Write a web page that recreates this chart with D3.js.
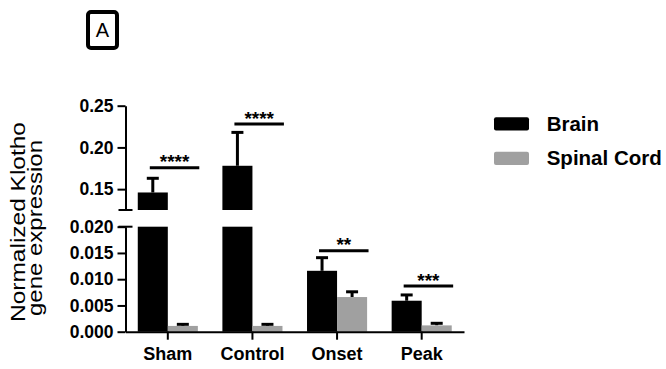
<!DOCTYPE html>
<html>
<head>
<meta charset="utf-8">
<script src="https://cdn.jsdelivr.net/npm/d3@7"></script>
<style>
  body { margin: 0; background: #fff; }
  svg { font-family: "Liberation Sans", Arial, sans-serif; }
</style>
</head>
<body>
<svg id="chart"></svg>
<script>
// data
const categories = ["Sham", "Control", "Onset", "Peak"];
const brain = [0.146, 0.178, 0.0116, 0.0059];
const brainSem = [0.017, 0.040, 0.0025, 0.0011];
const spinal = [0.0011, 0.0011, 0.0066, 0.0012];
const spinalSem = [0.0003, 0.0003, 0.0010, 0.0004];
const sigLabels = ["****", "****", "**", "***"];
const sigLevel = [0.1756, 0.228, 0.0154, 0.0087];
const upperTicks = [0.15, 0.20, 0.25];
const lowerTicks = [0, 0.005, 0.010, 0.015, 0.020];
const seriesNames = ["Brain", "Spinal Cord"];
const colors = ["#000000", "#a0a0a0"];

const svg = d3.select("#chart").attr("width", 666).attr("height", 369);

const axisX = 125.5;
const breakTop = 210, breakBottom = 226.7;

// two y segments, broken axis
const yUp = d3.scaleLinear().domain([0.125, 0.25]).range([breakTop, 105.7]);
const yLow = d3.scaleLinear().domain([0, 0.020]).range([331.7, breakBottom]);

const x = d3.scaleBand()
  .domain(categories)
  .range([axisX, 464])
  .paddingInner(0.29)
  .paddingOuter(0.145);
const bw = x.bandwidth() / 2;

const series = [
  { name: seriesNames[0], values: brain, sem: brainSem, color: colors[0], off: 0 },
  { name: seriesNames[1], values: spinal, sem: spinalSem, color: colors[1], off: bw }
];

// bars (error bars are black for both series)
series.forEach(s => {
  const g = svg.append("g");
  categories.forEach((c, i) => {
    const v = s.values[i];
    const x0 = x(c) + s.off;
    const lowTop = yLow(Math.min(v, yLow.domain()[1]));
    let top, errTop;
    if (v > yUp.domain()[0]) {
      top = yUp(v); errTop = yUp(v + s.sem[i]);
    } else {
      top = yLow(v); errTop = yLow(v + s.sem[i]);
    }
    const cx = x0 + bw / 2;
    g.append("line")
      .attr("x1", cx).attr("x2", cx).attr("y1", top).attr("y2", errTop)
      .attr("stroke", "#000").attr("stroke-width", 3);
    g.append("line")
      .attr("x1", cx - 6).attr("x2", cx + 6).attr("y1", errTop).attr("y2", errTop)
      .attr("stroke", "#000").attr("stroke-width", 3);
    g.append("rect")
      .attr("x", x0).attr("y", lowTop)
      .attr("width", bw).attr("height", yLow(0) - lowTop)
      .attr("fill", s.color);
    if (v > yUp.domain()[0]) {
      g.append("rect")
        .attr("x", x0).attr("y", yUp(v))
        .attr("width", bw).attr("height", breakTop - yUp(v))
        .attr("fill", s.color);
    }
  });
});

// significance lines
categories.forEach((c, i) => {
  const v = sigLevel[i];
  const yy = v > 0.02 ? yUp(v) : yLow(v);
  const x1 = x(c) + bw / 2 - 3;
  const x2 = x1 + 49.5;
  svg.append("line")
    .attr("x1", x1).attr("x2", x2).attr("y1", yy).attr("y2", yy)
    .attr("stroke", "#000").attr("stroke-width", 3);
  svg.append("text")
    .attr("x", (x1 + x2) / 2).attr("y", yy + 0.5)
    .attr("text-anchor", "middle")
    .attr("font-size", 19).attr("font-weight", "bold")
    .text(sigLabels[i]);
});

// axes
function styleAxis(g) {
  g.selectAll("path, line").attr("stroke", "#000").attr("stroke-width", 2);
  g.selectAll("text").attr("font-size", 17.5).attr("font-weight", "bold").attr("fill", "#000");
}

svg.append("g")
  .attr("transform", `translate(${axisX},0)`)
  .call(d3.axisLeft(yUp).tickValues(upperTicks).tickFormat(d3.format(".2f")).tickSize(8).tickSizeOuter(0).tickPadding(4))
  .call(styleAxis);

svg.append("g")
  .attr("transform", `translate(${axisX},0)`)
  .call(d3.axisLeft(yLow).tickValues(lowerTicks).tickFormat(d3.format(".3f")).tickSize(8).tickSizeOuter(0).tickPadding(4))
  .call(styleAxis);

// break marks
[breakTop, breakBottom].forEach(b => {
  svg.append("line")
    .attr("x1", axisX - 7).attr("x2", axisX + 7).attr("y1", b).attr("y2", b)
    .attr("stroke", "#000").attr("stroke-width", 2);
});

const xAxis = svg.append("g")
  .attr("transform", `translate(0,${yLow(0)})`)
  .call(d3.axisBottom(x).tickSize(8).tickSizeOuter(0).tickPadding(8))
  .call(styleAxis);
xAxis.selectAll("text").attr("font-size", 18);

// y title
const title = svg.append("text")
  .attr("transform", "translate(25,0) rotate(-90)")
  .attr("text-anchor", "middle")
  .attr("font-size", 21);
title.append("tspan").attr("x", -222).attr("y", 0)
  .attr("textLength", 200).attr("lengthAdjust", "spacingAndGlyphs")
  .text("Normalized Klotho");
title.append("tspan").attr("x", -228).attr("y", 17)
  .attr("textLength", 176).attr("lengthAdjust", "spacingAndGlyphs")
  .text("gene expression");

// legend
series.forEach((s, i) => {
  const ly = 117.3 + i * 34.4;
  svg.append("rect")
    .attr("x", 494).attr("y", ly).attr("width", 35).attr("height", 13.3)
    .attr("rx", 2).attr("fill", s.color);
  svg.append("text")
    .attr("x", 546.7).attr("y", ly + 13.4)
    .attr("font-size", 20.5).attr("font-weight", "bold")
    .text(s.name);
});

// panel label
svg.append("rect")
  .attr("x", 88).attr("y", 12).attr("width", 29).attr("height", 36)
  .attr("rx", 3).attr("fill", "none").attr("stroke", "#000").attr("stroke-width", 4);
svg.append("text")
  .attr("x", 102.5).attr("y", 37)
  .attr("text-anchor", "middle")
  .attr("font-size", 20)
  .text("A");
</script>
</body>
</html>
